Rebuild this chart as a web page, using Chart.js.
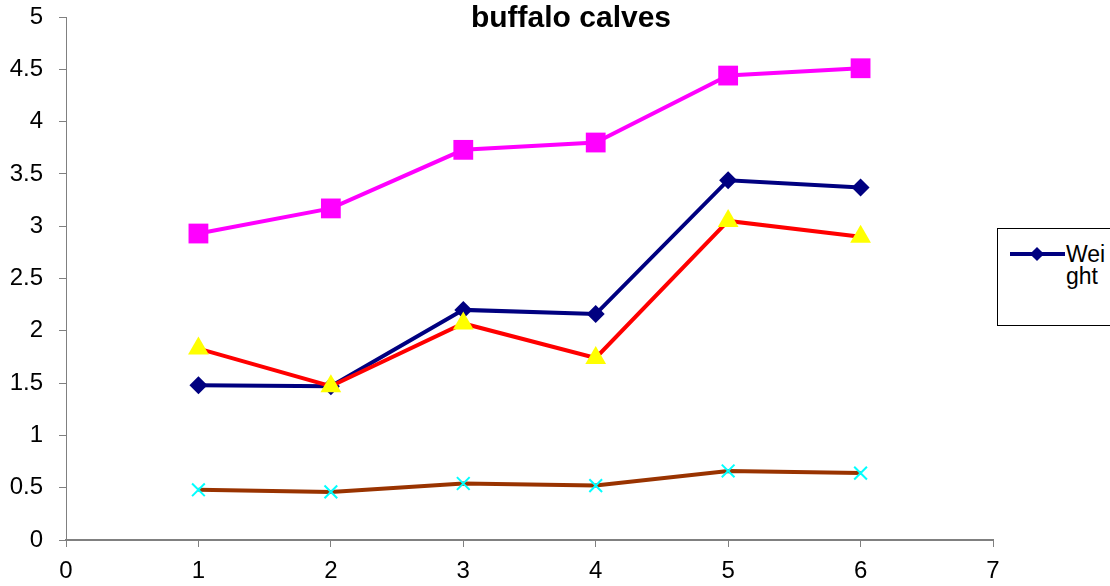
<!DOCTYPE html>
<html lang="en">
  <head>
    <meta charset="UTF-8" />
    <title>buffalo calves</title>
    <script src="https://cdn.jsdelivr.net/npm/chart.js"></script>
    <style>
      html, body { margin: 0; padding: 0; background: #fff; overflow: hidden; }
      #wrap { position: relative; width: 1110px; height: 586px; }
      #legend {
        position: absolute; left: 997px; top: 228px; width: 140px; height: 98px;
        border: 1px solid #000; box-sizing: border-box; background: #fff;
        font-family: "Liberation Sans", Arial, sans-serif; font-size: 23px; color: #000;
      }
      #legend .line { position: absolute; left: 12px; top: 23px; width: 55px; height: 4px; background: #000080; }
      #legend .mark { position: absolute; left: 34px; top: 20px; width: 10px; height: 10px; background: #000080; transform: rotate(45deg); }
      #legend .txt { position: absolute; left: 68px; top: 14px; width: 44px; line-height: 22px; word-break: break-all; }
    </style>
  </head>
  <body>
    <div id="wrap">
      <canvas id="chart" width="1110" height="586"></canvas>
      <div id="legend"><span class="line"></span><span class="mark"></span><span class="txt" id="legendText"></span></div>
    </div>
    <script>
      // data
      var xValues = [1, 2, 3, 4, 5, 6];
      var seriesNames = ["Weight", "Series2", "Series3", "Series4"];
      var weight = [1.48, 1.47, 2.2, 2.16, 3.44, 3.37];
      var series2 = [2.93, 3.17, 3.73, 3.8, 4.44, 4.51];
      var series3 = [1.83, 1.47, 2.07, 1.74, 3.05, 2.9];
      var series4 = [0.48, 0.46, 0.54, 0.52, 0.66, 0.64];
      var titleText = "buffalo calves";

      function pts(arr) {
        return arr.map(function (v, i) { return { x: xValues[i], y: v }; });
      }

      // title sits inside the plot, so draw it by hand
      var titlePlugin = {
        id: "titleText",
        afterDraw: function (chart) {
          var ctx = chart.ctx;
          ctx.save();
          ctx.font = "bold 30px 'Liberation Sans', Arial, sans-serif";
          ctx.fillStyle = "#000";
          ctx.textAlign = "center";
          ctx.textBaseline = "alphabetic";
          ctx.fillText(titleText, 571, 27);
          ctx.restore();
        },
      };

      var font = { family: "'Liberation Sans', Arial, sans-serif", size: 24 };

      new Chart(document.getElementById("chart").getContext("2d"), {
        type: "line",
        data: {
          datasets: [
            {
              label: seriesNames[0], data: pts(weight), order: 2,
              borderColor: "#000080", backgroundColor: "#000080", borderWidth: 4,
              pointStyle: "rectRot", pointRadius: 9, pointBorderWidth: 0,
            },
            {
              label: seriesNames[1], data: pts(series2), order: 3,
              borderColor: "#FF00FF", backgroundColor: "#FF00FF", borderWidth: 4,
              pointStyle: "rect", pointRadius: 14, pointBorderWidth: 0,
            },
            {
              label: seriesNames[2], data: pts(series3), order: 1,
              borderColor: "#FF0000", backgroundColor: "#FFFF00", borderWidth: 4,
              pointStyle: "triangle", pointRadius: 12, pointBorderWidth: 0,
              pointBorderColor: "#FFFF00",
            },
            {
              label: seriesNames[3], data: pts(series4), order: 4,
              borderColor: "#993300", backgroundColor: "#00FFFF", borderWidth: 4,
              pointStyle: "crossRot", pointRadius: 9, pointBorderWidth: 2,
              pointBorderColor: "#00FFFF",
            },
          ],
        },
        options: {
          responsive: false,
          animation: false,
          layout: { padding: { top: 17, right: 117, left: 0, bottom: 0 } },
          plugins: { legend: { display: false }, title: { display: false }, tooltip: { enabled: false } },
          elements: { line: { tension: 0 } },
          scales: {
            x: {
              type: "linear", min: 0, max: 7,
              afterFit: function (s) { s.height = 46; s.paddingLeft = 0; s.paddingRight = 0; },
              ticks: { stepSize: 1, color: "#000", font: font, padding: 10 },
              grid: { drawOnChartArea: false, tickLength: 7, color: "#808080" },
              border: { color: "#808080", width: 2 },
            },
            y: {
              min: 0, max: 5,
              afterFit: function (s) { s.width = 66; s.paddingTop = 0; s.paddingBottom = 0; },
              ticks: {
                stepSize: 0.5, color: "#000", font: font, padding: 16,
                callback: function (v) { return String(v); },
              },
              grid: { drawOnChartArea: false, tickLength: 7, color: "#808080" },
              border: { color: "#808080", width: 1 },
            },
          },
        },
        plugins: [titlePlugin],
      });

      document.getElementById("legendText").textContent = seriesNames[0];
    </script>
  </body>
</html>
